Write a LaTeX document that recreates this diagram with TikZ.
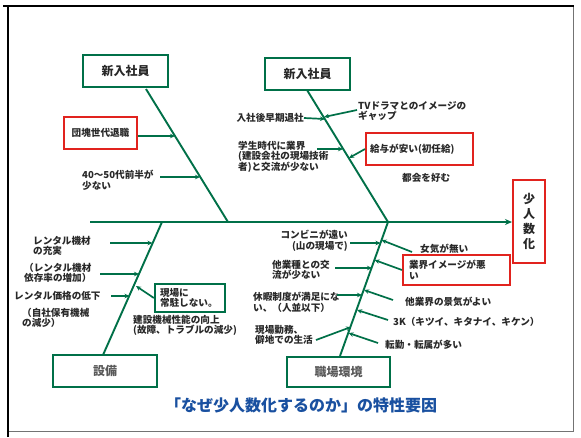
\documentclass[tikz,border=0pt]{standalone}
\usepackage{fontspec}
\newfontfamily\jp{Noto Sans CJK JP}
\usetikzlibrary{arrows.meta}
\definecolor{bonegreen}{RGB}{0,112,72}
\definecolor{boxred}{RGB}{225,35,30}
\definecolor{titleblue}{RGB}{25,80,160}
\definecolor{txt}{RGB}{40,40,40}
\begin{document}
\begin{tikzpicture}[x=1pt,y=-1pt,
  lbl/.style={font=\jp\bfseries\fontsize{9.6}{10.5}\selectfont, text=txt, inner sep=0pt, align=left},
  gbox/.style={draw=bonegreen, line width=2.2pt, inner sep=0pt, font=\jp\bfseries\fontsize{12}{13}\selectfont, text=txt},
  rbox/.style={draw=boxred, line width=2pt, inner sep=0pt, font=\jp\bfseries\fontsize{9.6}{10.5}\selectfont, text=txt},
  bone/.style={draw=bonegreen, line width=1.9pt},
  sub/.style={draw=bonegreen, line width=1.7pt, -{Stealth[length=5pt,width=4.5pt]}},
]
\useasboundingbox (0,0) rectangle (581,437);
\fill[white] (0,0) rectangle (581,437);
% frame
\draw[black!55, line width=1pt] (573,6) -- (573,431) -- (8,431);
\draw[black, line width=1.6pt] (8,437) -- (8,6);
\draw[black, line width=2.6pt] (3,6) -- (574,6);

% boxes
\node[gbox, minimum width=85pt, minimum height=32pt] (bL) at (125.5,71) {新入社員};
\node[gbox, minimum width=85pt, minimum height=32pt] (bM) at (307.5,74) {新入社員};
\node[rbox, minimum width=73pt, minimum height=32pt] (rDankai) at (100.5,133) {団塊世代退職};
\node[rbox, text width=99pt, inner xsep=4pt, minimum height=32pt, align=left] (rKyuyo) at (419.5,149) {給与が安い(初任給)};
\node[rbox, minimum width=32pt, minimum height=83pt, align=center, font=\jp\bfseries\fontsize{12}{15}\selectfont] (rShonin) at (529,221.5) {少\\人\\数\\化};
\node[rbox, text width=95pt, inner xsep=6pt, minimum height=30pt, align=left] (rGyokai) at (456.5,270) {業界イメージが悪\\い};
\node[gbox, text width=60pt, inner xsep=5pt, minimum height=28pt, align=left, font=\jp\bfseries\fontsize{9.6}{10.5}\selectfont] (gGenba) at (190,298) {現場に\\常駐しない。};
\node[gbox, minimum width=104pt, minimum height=32pt, text=black!65] (gSetsubi) at (105,371) {設備};
\node[gbox, minimum width=103pt, minimum height=30pt, text=black!65] (gShokuba) at (338.5,372) {職場環境};

% spine and main bones
\coordinate (sp0) at (90,222);
\coordinate (jTL) at (228,222);
\coordinate (jTR) at (388,222);
\coordinate (jBL) at (162,222);
\coordinate (tTLs) at (146,89);
\coordinate (tTRs) at (307,90);
\coordinate (bBLe) at (103,355);
\coordinate (bBRe) at (340,356);
\draw[bone, -{Stealth[length=7pt,width=6pt]}] (sp0) -- (rShonin.west |- sp0);
\draw[bone] (tTLs) -- (jTL);
\draw[bone] (tTRs) -- (jTR);
\draw[bone] (jBL) -- (bBLe);
\draw[bone] (jTR) -- (bBRe);

% text labels
\node[lbl, anchor=north west] (t40) at (82,170) {40～50代前半が\\少ない};
\node[lbl, anchor=east] (tNyusha) at (304,118) {入社後早期退社};
\node[lbl, anchor=north west] (tTV) at (358,101) {TVドラマとのイメージの\\ギャップ};
\node[lbl, anchor=north west] (tGakusei) at (238,141) {学生時代に業界\\(建設会社の現場技術\\者)と交流が少ない};
\node[lbl, anchor=west] (tTokai) at (402,178) {都会を好む};
\node[lbl, anchor=north west] (tR1) at (33,236) {レンタル機材\\の充実};
\node[lbl, anchor=north west] (tR2) at (24,263) {（レンタル機材\\依存率の増加）};
\node[lbl, anchor=west] (tR3) at (14,296) {レンタル価格の低下};
\node[lbl, anchor=north west] (tJisha) at (22,308) {（自社保有機械\\の減少）};
\node[lbl, anchor=north west] (tKensetsu) at (133,315) {建設機械性能の向上\\(故障、トラブルの減少)};
\node[lbl, anchor=north east, align=right] (tConv) at (348,230) {コンビニが遠い\\(山の現場で)};
\node[lbl, anchor=north west] (tTagyo) at (272,260) {他業種との交\\流が少ない};
\node[lbl, anchor=north west] (tKyuka) at (253,292) {休暇制度が満足にな\\い、（人並以下）};
\node[lbl, anchor=north west] (tGenba) at (255,325) {現場勤務、\\僻地での生活};
\node[lbl, anchor=west] (tOnna) at (420,249) {女気が無い};
\node[lbl, anchor=west] (tTagyokai) at (405,302) {他業界の景気がよい};
\node[lbl, anchor=west] (t3K) at (393,322) {3K（キツイ、キタナイ、キケン）};
\node[lbl, anchor=west] (tTenkin) at (385,345) {転勤・転属が多い};
\node[font=\jp\bfseries\fontsize{16}{18}\selectfont, text=titleblue, inner sep=0pt] (title) at (301,405) {「なぜ少人数化するのか」の特性要因};

% sub-bone end points on the bones
\coordinate (p1) at (175,136);
\coordinate (p2) at (200,177);
\coordinate (p3) at (325,119);
\coordinate (p4) at (324,117);
\coordinate (p5) at (343,149);
\coordinate (p6) at (349,158);
\coordinate (q1) at (152.5,243);
\coordinate (q2) at (139,274);
\coordinate (q3) at (129.5,296);
\coordinate (q4) at (136,286);
\coordinate (r1) at (380.5,243);
\coordinate (r2) at (372,268);
\coordinate (r3) at (362,295);
\coordinate (r4) at (351,327);
\coordinate (s1) at (381.5,240);
\coordinate (s2) at (374.5,260);
\coordinate (s3) at (364,290);
\coordinate (s4) at (357,310);
\coordinate (s5) at (348.5,333);
% free ends
\coordinate (e2) at (160,177);
\coordinate (e4) at (357,110);
\coordinate (e5) at (317,149);
\coordinate (f1) at (110,243);
\coordinate (f2) at (100,274);
\coordinate (f3) at (111,296);
\coordinate (g1) at (350,243);
\coordinate (g2) at (335,268);
\coordinate (g3) at (337,295);
\coordinate (g4) at (316,340);
\coordinate (h1) at (412,252);
\coordinate (h3) at (393,300);
\coordinate (h4) at (388,320);
\coordinate (h5) at (378,343);

\draw[sub] (rDankai.east |- p1) -- (p1);
\draw[sub] (e2) -- (p2);
\draw[sub] (tNyusha.east) -- (p3);
\draw[sub] (e4) -- (p4);
\draw[sub] (e5) -- (p5);
\draw[sub] (rKyuyo.west) -- (p6);
\draw[sub] (f1) -- (q1);
\draw[sub] (f2) -- (q2);
\draw[sub] (f3) -- (q3);
\draw[sub] (gGenba.west) -- (q4);
\draw[sub] (g1) -- (r1);
\draw[sub] (g2) -- (r2);
\draw[sub] (g3) -- (r3);
\draw[sub] (g4) -- (r4);
\draw[sub] (h1) -- (s1);
\draw[sub] (rGyokai.west) -- (s2);
\draw[sub] (h3) -- (s3);
\draw[sub] (h4) -- (s4);
\draw[sub] (h5) -- (s5);
\end{tikzpicture}
\end{document}
